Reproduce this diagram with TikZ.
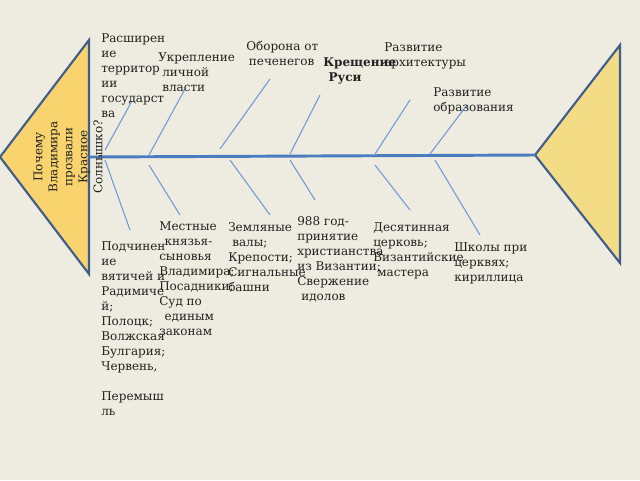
\documentclass[tikz,border=0pt]{standalone}
\usepackage{fontspec}
\setmainfont{DejaVu Serif}
\definecolor{bgc}{HTML}{EEEBE0}
\definecolor{edgec}{HTML}{3F5E8C}
\definecolor{fillL}{HTML}{F8D36E}
\definecolor{fillR}{HTML}{F4DB85}
\definecolor{spinec}{HTML}{4A7CC0}
\definecolor{bonec}{HTML}{6F9BD6}
\definecolor{txtc}{HTML}{222222}
\begin{document}
\begin{tikzpicture}[x=0.75pt,y=-0.75pt,
  head/.style={draw=edgec,line width=1.6pt,line join=miter},
  spine/.style={draw=spinec,line width=2.2pt},
  bone/.style={draw=bonec,line width=0.8pt},
  lbl/.style={anchor=base west,inner sep=0pt,align=left,text=txtc,
    font=\fontsize{9}{11.25}\selectfont}]
\useasboundingbox (0,0) rectangle (640,480);
\fill[bgc] (0,0) rectangle (640,480);
% heads
\coordinate (Ltip) at (0,157);
\coordinate (Ltop) at (89,40);
\coordinate (Lbot) at (89,274);
\coordinate (Lmid) at (89,157);
\coordinate (Rtip) at (535,155);
\coordinate (Rtop) at (620,45);
\coordinate (Rbot) at (620,263);
\path[head,fill=fillL] (Ltip) -- (Ltop) -- (Lbot) -- cycle;
\path[head,fill=fillR] (Rtip) -- (Rtop) -- (Rbot) -- cycle;
\draw[spine] (Lmid) -- (Rtip);
% upper bones
\coordinate (u1a) at (105,150); \coordinate (u1b) at (132,101);
\coordinate (u2a) at (149,155); \coordinate (u2b) at (185,89);
\coordinate (u3a) at (220,149); \coordinate (u3b) at (270,79);
\coordinate (u4a) at (290,154); \coordinate (u4b) at (320,95);
\coordinate (u5a) at (375,154); \coordinate (u5b) at (410,100);
\coordinate (u6a) at (430,154); \coordinate (u6b) at (467,105);
\foreach \i in {1,...,6} \draw[bone] (u\i a) -- (u\i b);
% lower bones
\coordinate (d1a) at (105,160); \coordinate (d1b) at (130,230);
\coordinate (d2a) at (149,165); \coordinate (d2b) at (180,215);
\coordinate (d3a) at (230,160); \coordinate (d3b) at (270,215);
\coordinate (d4a) at (290,160); \coordinate (d4b) at (315,200);
\coordinate (d5a) at (375,165); \coordinate (d5b) at (410,210);
\coordinate (d6a) at (435,160); \coordinate (d6b) at (480,235);
\foreach \i in {1,...,6} \draw[bone] (d\i a) -- (d\i b);
% question
\node[rotate=90,align=center,inner sep=0pt,text=txtc,
  font=\fontsize{9}{11.25}\selectfont] (q) at (68,157)
  {Почему\\Владимира\\прозвали\\Красное\\Солнышко?};
% upper labels (anchored at the baseline of the last line)
\node[lbl] (t1) at (101,117) {Расширен\\ие\\территор\\ии\\государст\\ва};
\node[lbl] (t2) at (158,91) {Укрепление\\\hspace*{3pt}личной\\\hspace*{3pt}власти};
\node[lbl] (t3) at (246,65) {Оборона от\\\hspace*{2pt}печенегов};
\node[lbl,font=\fontsize{9}{11.25}\selectfont\bfseries] (t4) at (323,81) {Крещение\\\hspace*{4pt}Руси};
\node[lbl] (t5) at (384,66) {Развитие\\архитектуры};
\node[lbl] (t6) at (433,111) {Развитие\\образования};
% lower labels
\node[lbl] (b1) at (101,415) {Подчинен\\ие\\вятичей и\\Радимиче\\й;\\Полоцк;\\Волжская\\Булгария;\\Червень,\\[11.25pt]Перемыш\\ль};
\node[lbl] (b2) at (159,335) {Местные\\\hspace*{4pt}князья-\\сыновья\\Владимира;\\Посадники;\\Суд по\\\hspace*{4pt}единым\\законам};
\node[lbl] (b3) at (228,291) {Земляные\\\hspace*{3pt}валы;\\Крепости;\\Сигнальные\\башни};
\node[lbl] (b4) at (297,300) {988 год-\\принятие\\христианства\\из Византии;\\Свержение\\\hspace*{3pt}идолов};
\node[lbl] (b5) at (373,276) {Десятинная\\церковь;\\Византийские\\\hspace*{3pt}мастера};
\node[lbl] (b6) at (454,281) {Школы при\\церквях;\\кириллица};
\end{tikzpicture}
\end{document}
